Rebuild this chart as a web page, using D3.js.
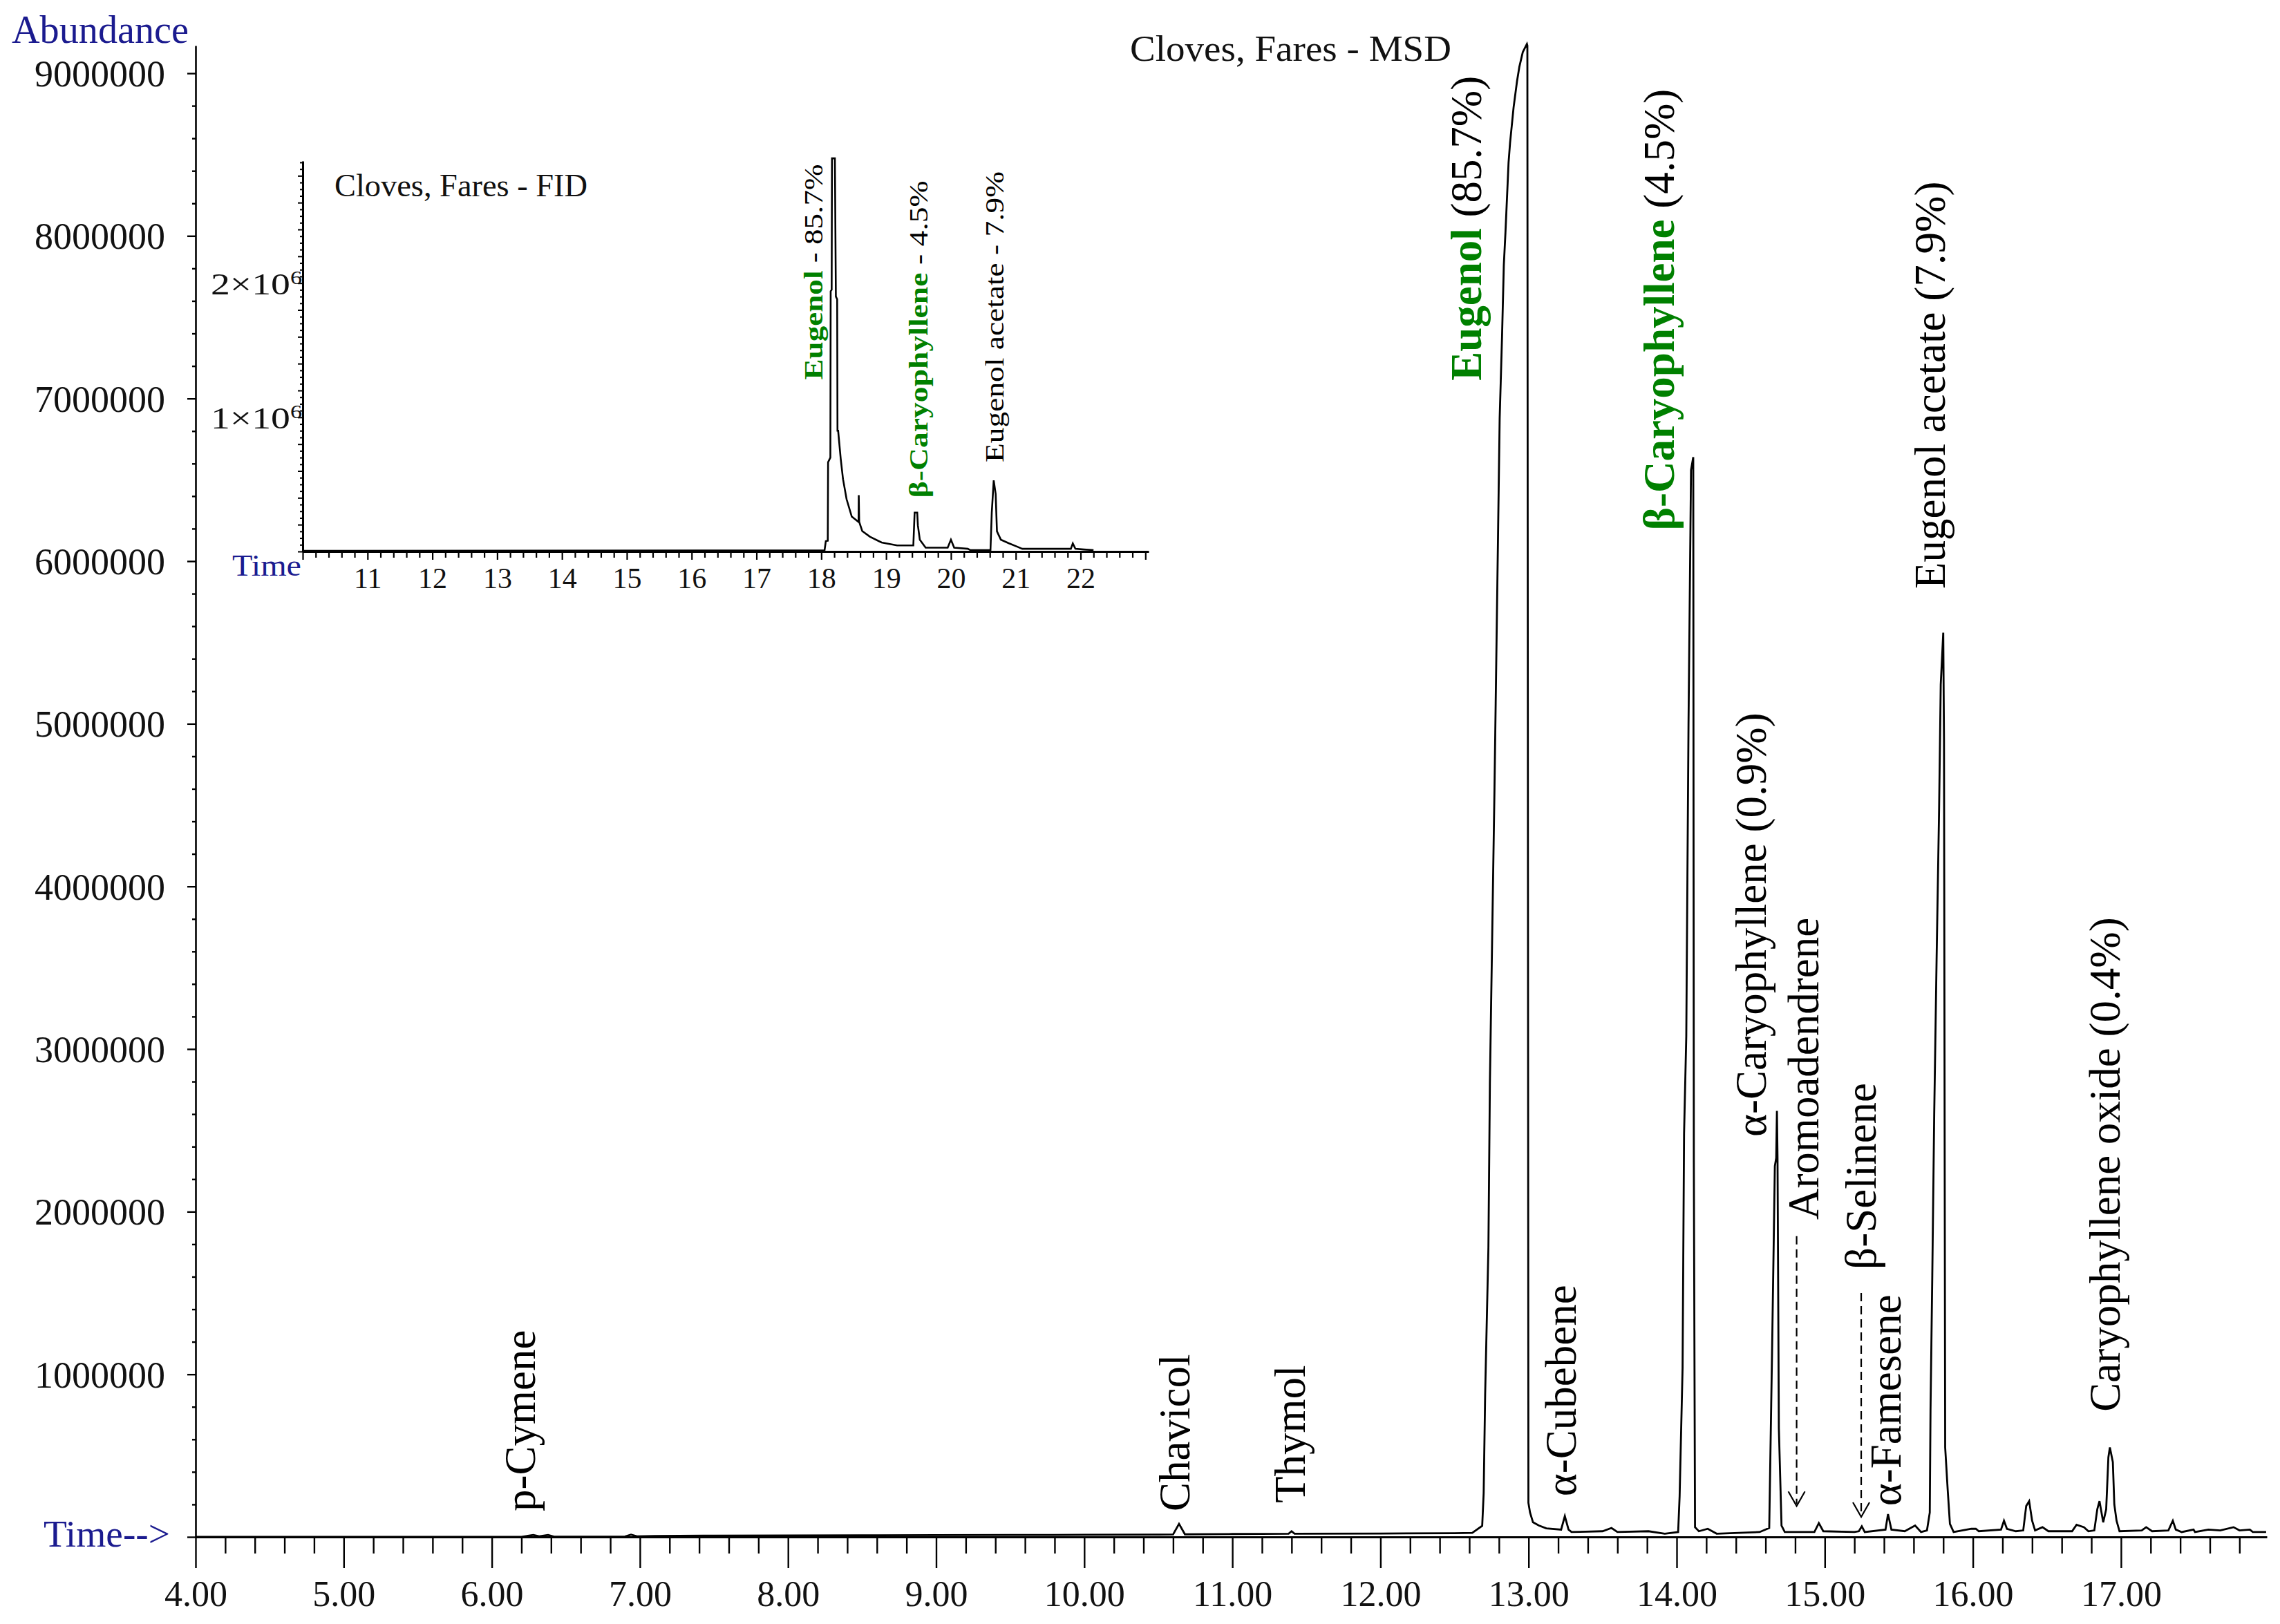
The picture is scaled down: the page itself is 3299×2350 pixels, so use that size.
<!DOCTYPE html>
<html>
<head>
<meta charset="utf-8">
<script src="https://cdn.jsdelivr.net/npm/d3@7"></script>
<style>
  body { margin: 0; background: #fff; }
  text { font-family: "Times New Roman", "Liberation Serif", serif; }
</style>
</head>
<body>
<div id="chart-container"></div>
<script>
// MSD trace: [retention time (min), abundance]
var msdPoints = [
  [4.00, 0], [6.20, 0], [6.28, 12000], [6.32, 4000], [6.38, 12000], [6.42, 2000],
  [6.90, 3000], [6.94, 14000], [6.98, 4000], [7.10, 6000], [7.50, 8000], [8.00, 9000],
  [8.50, 10000], [9.00, 11000], [9.50, 12000], [10.00, 13000], [10.50, 14000], [10.60, 15000],
  [10.64, 80000], [10.68, 16000], [11.00, 18000], [11.38, 20000], [11.40, 35000], [11.42, 20000],
  [12.00, 21000], [12.50, 23000], [12.62, 25000], [12.687, 68000], [12.697, 270000], [12.707, 880000],
  [12.729, 1780000], [12.739, 2790000], [12.77, 4600000], [12.805, 6880000], [12.821, 7380000],
  [12.833, 7820000], [12.844, 8020000], [12.865, 8450000], [12.875, 8570000], [12.899, 8790000],
  [12.922, 8950000], [12.938, 9040000], [12.961, 9130000], [12.989, 9180000], [12.992, 9170000],
  [12.999, 210000], [13.01, 150000], [13.03, 90000], [13.07, 70000], [13.12, 53000], [13.22, 45000],
  [13.245, 128000], [13.27, 45000], [13.29, 30000], [13.50, 35000], [13.56, 55000], [13.60, 30000],
  [13.81, 35000], [13.92, 20000], [14.01, 30000], [14.02, 250000], [14.04, 1040000], [14.05, 2480000],
  [14.065, 3080000], [14.08, 5000000], [14.097, 6560000], [14.112, 6640000], [14.116, 2300000],
  [14.124, 60000], [14.15, 35000], [14.21, 50000], [14.27, 20000], [14.56, 30000], [14.625, 55000],
  [14.644, 1130000], [14.663, 2280000], [14.672, 2330000], [14.677, 2620000], [14.681, 2330000],
  [14.69, 670000], [14.708, 70000], [14.73, 30000], [14.93, 30000], [14.96, 85000], [14.99, 35000],
  [15.20, 30000], [15.23, 35000], [15.25, 65000], [15.27, 30000], [15.41, 45000], [15.427, 140000],
  [15.45, 45000], [15.54, 35000], [15.61, 70000], [15.65, 30000], [15.69, 40000], [15.709, 150000],
  [15.714, 780000], [15.726, 1610000], [15.739, 2600000], [15.755, 3550000], [15.772, 4480000],
  [15.783, 5240000], [15.80, 5560000], [15.805, 4900000], [15.813, 550000], [15.83, 290000],
  [15.845, 80000], [15.87, 30000], [15.99, 50000], [16.02, 50000], [16.04, 35000], [16.19, 45000],
  [16.21, 100000], [16.23, 50000], [16.29, 35000], [16.34, 40000], [16.36, 190000], [16.38, 220000],
  [16.40, 100000], [16.42, 40000], [16.47, 60000], [16.51, 35000], [16.67, 35000], [16.70, 75000],
  [16.75, 60000], [16.78, 35000], [16.82, 40000], [16.84, 170000], [16.855, 220000], [16.88, 90000],
  [16.90, 170000], [16.915, 490000], [16.925, 550000], [16.945, 460000], [16.955, 200000],
  [16.97, 100000], [16.99, 35000], [17.14, 40000], [17.17, 60000], [17.21, 35000], [17.32, 40000],
  [17.35, 100000], [17.37, 45000], [17.41, 30000], [17.49, 45000], [17.50, 30000], [17.59, 45000],
  [17.67, 40000], [17.76, 60000], [17.80, 40000], [17.87, 45000], [17.89, 30000], [17.98, 30000]
];

// FID trace (inset): [time, signal]
var fidPoints = [
  [10.0, 5000], [18.05, 8000], [18.07, 77000], [18.10, 80000], [18.105, 665000], [18.14, 700000],
  [18.145, 1940000], [18.16, 1950000], [18.165, 2930000], [18.21, 2930000], [18.225, 1900000],
  [18.245, 1880000], [18.25, 900000], [18.26, 900000], [18.30, 690000], [18.335, 540000],
  [18.39, 390000], [18.47, 260000], [18.575, 220000], [18.578, 420000], [18.585, 220000],
  [18.632, 152000], [18.75, 110000], [18.93, 67000], [19.17, 45000], [19.42, 45000], [19.44, 290000],
  [19.48, 290000], [19.49, 195000], [19.52, 88000], [19.61, 28000], [19.95, 28000], [20.0, 88000],
  [20.05, 28000], [20.26, 20000], [20.30, 10000], [20.61, 10000], [20.63, 290000], [20.66, 530000],
  [20.69, 430000], [20.71, 150000], [20.77, 88000], [20.89, 62000], [21.03, 34000], [21.10, 20000],
  [21.85, 20000], [21.88, 60000], [21.92, 20000], [22.05, 15000], [22.20, 10000]
];

// peak names for the MSD run, anchored at [time, abundance]
var peakLabels = [
  {bold: "", text: "p-Cymene", t: 6.29, v: 157000},
  {bold: "", text: "Chavicol", t: 10.71, v: 157000},
  {bold: "", text: "Thymol", t: 11.49, v: 208000},
  {bold: "Eugenol", text: " (85.7%)", t: 12.68, v: 7110000},
  {bold: "", text: "α-Cubebene", t: 13.32, v: 250000},
  {bold: "β-Caryophyllene", text: " (4.5%)", t: 13.98, v: 6190000},
  {bold: "", text: "α-Caryophyllene (0.9%)", t: 14.60, v: 2460000},
  {bold: "", text: "Aromoadendrene", t: 14.957, v: 1950000},
  {bold: "", text: "β-Selinene", t: 15.344, v: 1645000},
  {bold: "", text: "α-Famesene", t: 15.512, v: 190000},
  {bold: "", text: "Eugenol acetate (7.9%)", t: 15.81, v: 5830000},
  {bold: "", text: "Caryophyllene oxide (0.4%)", t: 16.99, v: 770000}
];

// peak names for the FID inset
var fidLabels = [
  {bold: "Eugenol", text: " - 85.7%", t: 18.02, v: 1280000, len: 312},
  {bold: "β-Caryophyllene", text: " - 4.5%", t: 19.64, v: 400000, len: 459},
  {bold: "", text: "Eugenol acetate - 7.9%", t: 20.81, v: 665000, len: 421}
];

// dashed arrows pointing to the small peaks: [time, from, to]
var arrows = [[14.81, 1850000, 190000], [15.246, 1500000, 123000]];

var fidYTicks = [1000000, 2000000];
var fidYTickLabels = ["1×10", "2×10"];

var navy = "#1b1b8f", green = "#008000";

function isWhole(d) { return Math.abs(d - Math.round(d)) < 1e-6; }

var svg = d3.select("#chart-container")
    .append("svg")
    .attr("width", 3299)
    .attr("height", 2350);

svg.append("rect").attr("width", 3299).attr("height", 2350).attr("fill", "#fff");

// ---------- main MSD chromatogram ----------
var x = d3.scaleLinear().domain([4, 17.985]).range([283, 3280]);
var y = d3.scaleLinear().domain([0, 9170000]).range([2224, 66]);

var line = d3.line()
    .x(function(d) { return x(d[0]); })
    .y(function(d) { return y(d[1]); });

svg.append("path")
    .datum(msdPoints)
    .attr("fill", "none")
    .attr("stroke", "#000")
    .attr("stroke-width", 2.8)
    .attr("d", line);

// x axis
var gx = svg.append("g")
    .attr("transform", "translate(0," + y(0) + ")")
    .call(d3.axisBottom(x)
        .tickValues(d3.range(4, 17.81, 0.2))
        .tickSizeOuter(0)
        .tickFormat(function(d) { return isWhole(d) ? d3.format(".2f")(d) : ""; }));
gx.select(".domain").attr("stroke-width", 2.8);
gx.selectAll(".tick line")
    .attr("y2", function(d) { return isWhole(d) ? 45 : 24; })
    .attr("stroke-width", 2.4);
gx.selectAll(".tick text")
    .attr("y", 100).attr("dy", null)
    .attr("font-size", 52).attr("fill", "#111");

// y axis
var gy = svg.append("g")
    .attr("transform", "translate(" + x(4) + ",0)")
    .call(d3.axisLeft(y)
        .tickValues(d3.range(0, 9.01e6, 2e5))
        .tickSizeOuter(0)
        .tickFormat(function(d) { return (d % 1e6 === 0 && d > 0) ? d : ""; }));
gy.select(".domain").attr("stroke-width", 2.6);
gy.selectAll(".tick line")
    .attr("x2", function(d) { return d % 1e6 === 0 ? -12 : -5; })
    .attr("stroke-width", 2.4);
gy.selectAll(".tick text")
    .attr("x", -44).attr("dy", "0.34em")
    .attr("font-size", 54).attr("fill", "#111");

// axis titles and chart title
svg.append("text")
    .attr("x", 17).attr("y", 62)
    .attr("font-size", 56).attr("fill", navy)
    .attr("textLength", 256).attr("lengthAdjust", "spacingAndGlyphs")
    .text("Abundance");

svg.append("text")
    .attr("x", 63).attr("y", 2238)
    .attr("font-size", 55).attr("fill", navy)
    .attr("textLength", 183).attr("lengthAdjust", "spacingAndGlyphs")
    .text("Time-->");

svg.append("text")
    .attr("x", 1635).attr("y", 88)
    .attr("font-size", 52).attr("fill", "#111")
    .attr("textLength", 465).attr("lengthAdjust", "spacingAndGlyphs")
    .text("Cloves, Fares - MSD");

// peak labels, written bottom to top
peakLabels.forEach(function(p) {
    var t = svg.append("text")
        .attr("transform", "translate(" + x(p.t) + "," + y(p.v) + ") rotate(-90)")
        .attr("font-size", 63)
        .attr("fill", "#000");
    if (p.bold) {
        t.append("tspan").attr("font-weight", "bold").attr("fill", green).text(p.bold);
    }
    t.append("tspan").text(p.text);
});

// dashed arrows
arrows.forEach(function(a) {
    var ax = x(a[0]), y1 = y(a[1]), y2 = y(a[2]);
    svg.append("line")
        .attr("x1", ax).attr("x2", ax)
        .attr("y1", y1).attr("y2", y2 - 3)
        .attr("stroke", "#000").attr("stroke-width", 2.2)
        .attr("stroke-dasharray", "12,7");
    svg.append("path")
        .attr("d", "M" + (ax - 12) + "," + (y2 - 21) + "L" + ax + "," + y2 + "L" + (ax + 12) + "," + (y2 - 21))
        .attr("fill", "none").attr("stroke", "#000").attr("stroke-width", 2.2);
});

// ---------- FID inset ----------
var ix = d3.scaleLinear().domain([10, 23.05]).range([438, 1662]);
var iy = d3.scaleLinear().domain([0, 2910000]).range([798, 233]);

var iline = d3.line()
    .x(function(d) { return ix(d[0]); })
    .y(function(d) { return iy(d[1]); });

svg.append("path")
    .datum(fidPoints)
    .attr("fill", "none")
    .attr("stroke", "#000")
    .attr("stroke-width", 2.6)
    .attr("d", iline);

var igx = svg.append("g")
    .attr("transform", "translate(0," + iy(0) + ")")
    .call(d3.axisBottom(ix)
        .tickValues(d3.range(10, 23.01, 0.2))
        .tickSizeOuter(0)
        .tickFormat(function(d) { return (isWhole(d) && d > 10.5 && d < 22.5) ? d3.format("d")(Math.round(d)) : ""; }));
igx.select(".domain").attr("stroke-width", 3);
igx.selectAll(".tick line")
    .attr("y2", function(d) { return isWhole(d) ? 12 : 9; })
    .attr("stroke-width", 2.2);
igx.selectAll(".tick text")
    .attr("y", 53).attr("dy", null)
    .attr("font-size", 42).attr("fill", "#111");

var igy = svg.append("g")
    .attr("transform", "translate(" + ix(10) + ",0)")
    .call(d3.axisLeft(iy)
        .tickValues(d3.range(0, 2.91e6, 5e4))
        .tickSizeOuter(0)
        .tickFormat(""));
igy.select(".domain").attr("stroke-width", 3);
igy.selectAll(".tick line")
    .attr("x2", function(d) { return d % 2e5 === 0 ? -7 : -4; })
    .attr("stroke-width", 2);

// inset y tick labels with superscript exponent
fidYTicks.forEach(function(v, i) {
    var t = svg.append("text")
        .attr("x", ix(10) - 1)
        .attr("y", iy(v) + 16)
        .attr("text-anchor", "end")
        .attr("font-size", 44)
        .attr("fill", "#111")
        .attr("textLength", 132).attr("lengthAdjust", "spacingAndGlyphs");
    t.append("tspan").text(fidYTickLabels[i]);
    t.append("tspan").attr("font-size", 27).attr("dy", -15).text("6");
});

svg.append("text")
    .attr("x", ix(10) - 2).attr("y", 833)
    .attr("text-anchor", "end")
    .attr("font-size", 45).attr("fill", navy)
    .attr("textLength", 100).attr("lengthAdjust", "spacingAndGlyphs")
    .text("Time");

svg.append("text")
    .attr("x", 484).attr("y", 284)
    .attr("font-size", 46).attr("fill", "#111")
    .attr("textLength", 366).attr("lengthAdjust", "spacingAndGlyphs")
    .text("Cloves, Fares - FID");

fidLabels.forEach(function(p) {
    var t = svg.append("text")
        .attr("transform", "translate(" + ix(p.t) + "," + iy(p.v) + ") rotate(-90)")
        .attr("font-size", 38)
        .attr("fill", "#000")
        .attr("textLength", p.len).attr("lengthAdjust", "spacingAndGlyphs");
    if (p.bold) {
        t.append("tspan").attr("font-weight", "bold").attr("fill", green).text(p.bold);
    }
    t.append("tspan").text(p.text);
});
</script>
</body>
</html>
